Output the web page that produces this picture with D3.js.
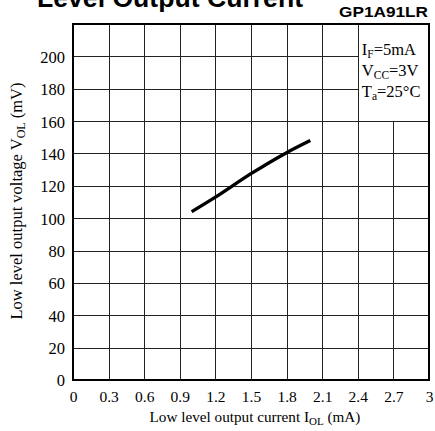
<!DOCTYPE html>
<html><head><meta charset="utf-8">
<script src="https://cdn.jsdelivr.net/npm/d3@7"></script>
<style>body{margin:0;background:#fff}</style>
</head><body>
<svg id="c" width="435" height="431"></svg>
<script>
const xTicks = [0, 0.3, 0.6, 0.9, 1.2, 1.5, 1.8, 2.1, 2.4, 2.7, 3];
const xTickLabels = ["0","0.3","0.6","0.9","1.2","1.5","1.8","2.1","2.4","2.7","3"];
const yTicks = [0, 20, 40, 60, 80, 100, 120, 140, 160, 180, 200];
const currentIOL = [1.0, 1.2, 1.5, 1.8, 2.0];
const voltageVOL = [104, 113, 127.5, 140.5, 148];

const svg = d3.select("#c");
const L = 73, R = 429, T = 24, B = 380;
const x = d3.scaleLinear().domain([0, 3]).range([L, R]);
const y = d3.scaleLinear().domain([0, 220]).range([B, T]);
const serif = "'Liberation Serif', 'Times New Roman', serif";
const sans = "'Liberation Sans', Arial, sans-serif";

// Title fragment (clipped at top)
svg.append("text").attr("x", 37).attr("y", 7).attr("font-family", sans)
  .attr("font-weight", "bold").attr("font-size", 26).attr("textLength", 266)
  .attr("lengthAdjust", "spacingAndGlyphs").text("Level Output Current");
svg.append("text").attr("x", 428).attr("y", 17).attr("text-anchor", "end")
  .attr("font-family", sans).attr("font-weight", "bold").attr("font-size", 15)
  .attr("textLength", 89).attr("lengthAdjust", "spacingAndGlyphs").text("GP1A91LR");

const grid = svg.append("g").attr("stroke", "#222").attr("stroke-width", 1).attr("shape-rendering", "crispEdges");
// horizontal grid lines
yTicks.filter(v => v > 0).forEach(v => {
  const x2 = v > 160 ? x(2.4) : R;
  grid.append("line").attr("x1", L).attr("x2", x2).attr("y1", Math.round(y(v)) + 0.5).attr("y2", Math.round(y(v)) + 0.5);
});
// vertical grid lines
xTicks.filter(v => v > 0 && v < 3).forEach(v => {
  const y1 = v > 2.4 ? y(160) : T;
  grid.append("line").attr("x1", Math.round(x(v)) + 0.5).attr("x2", Math.round(x(v)) + 0.5).attr("y1", y1).attr("y2", B);
});
// frame
svg.append("rect").attr("x", L).attr("y", T).attr("width", R - L).attr("height", B - T)
  .attr("fill", "none").attr("stroke", "#000").attr("stroke-width", 2);

// tick labels via d3 axes
const xAxis = d3.axisBottom(x).tickValues(xTicks).tickSize(0).tickPadding(0)
  .tickFormat((d, i) => xTickLabels[i]);
const gx = svg.append("g").attr("transform", `translate(0,${B + 8})`).call(xAxis);
gx.select(".domain").remove();
gx.selectAll("text").attr("font-family", serif).attr("font-size", 15.5).attr("fill", "#000").attr("dy", "0.9em");

const yAxis = d3.axisLeft(y).tickValues(yTicks).tickSize(0).tickPadding(0);
const gy = svg.append("g").attr("transform", `translate(${L - 8},0)`).call(yAxis);
gy.select(".domain").remove();
gy.selectAll("text").attr("font-family", serif).attr("font-size", 16.5).attr("fill", "#000").attr("dy", "0.36em");

// conditions box text
const box = svg.append("g").attr("font-family", serif).attr("font-size", 16.5).attr("fill", "#000");
const bx = x(2.4) + 4;
let t1 = box.append("text").attr("x", bx).attr("y", 55);
t1.append("tspan").text("I");
t1.append("tspan").attr("font-size", 11.5).attr("dy", 3).text("F");
t1.append("tspan").attr("dy", -3).text("=5mA");
let t2 = box.append("text").attr("x", bx).attr("y", 76);
t2.append("tspan").text("V");
t2.append("tspan").attr("font-size", 11.5).attr("dy", 3).text("CC");
t2.append("tspan").attr("dy", -3).text("=3V");
let t3 = box.append("text").attr("x", bx).attr("y", 97);
t3.append("tspan").text("T");
t3.append("tspan").attr("font-size", 11.5).attr("dy", 3).text("a");
t3.append("tspan").attr("dy", -3).text("=25°C");

// curve
const data = currentIOL.map((c, i) => [c, voltageVOL[i]]);
svg.append("path").datum(data)
  .attr("d", d3.line().x(d => x(d[0])).y(d => y(d[1])).curve(d3.curveMonotoneX))
  .attr("fill", "none").attr("stroke", "#000").attr("stroke-width", 3.4);

// axis titles
let xl = svg.append("text").attr("x", 255).attr("y", 422).attr("text-anchor", "middle")
  .attr("font-family", serif).attr("font-size", 15.2);
xl.append("tspan").text("Low level output current I");
xl.append("tspan").attr("font-size", 11).attr("dy", 3).text("OL");
xl.append("tspan").attr("dy", -3).text(" (mA)");

let yl = svg.append("text").attr("transform", "translate(22,201) rotate(-90)").attr("text-anchor", "middle")
  .attr("font-family", serif).attr("font-size", 16.5);
yl.append("tspan").text("Low level output voltage V");
yl.append("tspan").attr("font-size", 12).attr("dy", 3).text("OL");
yl.append("tspan").attr("dy", -3).text(" (mV)");
</script>
</body></html>
